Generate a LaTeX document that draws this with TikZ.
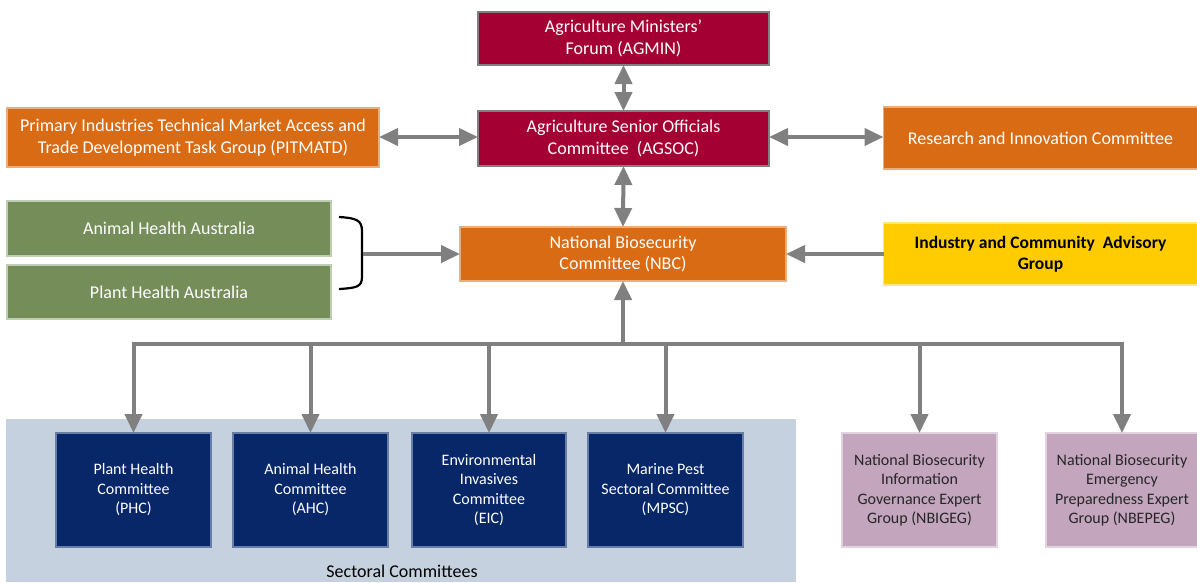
\documentclass[tikz,border=0pt]{standalone}
\usepackage{fontspec}
\setmainfont{Carlito}
\usetikzlibrary{arrows.meta}
\definecolor{crimson}{HTML}{A50034}
\definecolor{orng}{HTML}{D86B13}
\definecolor{grn}{HTML}{748D59}
\definecolor{navy}{HTML}{072769}
\definecolor{mauve}{HTML}{C3A5BE}
\definecolor{panelc}{HTML}{C6D1DF}
\definecolor{yell}{HTML}{FECC00}
\definecolor{arrg}{HTML}{808080}
\definecolor{dtext}{HTML}{262626}
\tikzset{
  box/.style={rectangle, inner sep=0pt, outer sep=0pt, align=center, line width=1.2pt},
  bigtxt/.style={font=\fontsize{18}{21.5}\selectfont},
  smalltxt/.style={font=\fontsize{16}{19.5}\selectfont},
  redbox/.style={box, bigtxt, fill=crimson, draw=arrg, text=white},
  orbox/.style={box, bigtxt, fill=orng, draw=orng!55!white, text=white},
  grbox/.style={box, bigtxt, fill=grn, draw=grn!45!white, text=white},
  nvbox/.style={box, smalltxt, fill=navy, draw=navy!60!white, text=white, minimum height=114},
  mvbox/.style={box, smalltxt, fill=mauve, draw=mauve!50!white, text=dtext, minimum height=114},
  ylbox/.style={box, bigtxt, fill=yell, draw=yell!50!white, text=black, font=\fontsize{17.5}{21.5}\selectfont\bfseries},
  conn/.style={draw=arrg, line width=4pt},
  arr/.style={conn, -{Triangle[length=19pt,width=17pt]}},
  darr/.style={conn, {Triangle[length=19pt,width=17pt]}-{Triangle[length=19pt,width=17pt]}},
}
\begin{document}
\begin{tikzpicture}[x=1pt,y=-1pt]
\useasboundingbox (0,0) rectangle (1197,582);
\fill[white] (0,0) rectangle (1197,582);

% sectoral panel
\node[box, fill=panelc, minimum width=790, minimum height=163] (panel) at (401,500.5) {};
\node[font=\fontsize{18}{20}\selectfont, text=black] (seclab) at (402,571) {Sectoral Committees};

% top boxes
\node[redbox, minimum width=291, minimum height=53] (agmin) at (623.5,38.5) {Agriculture Ministers'\\Forum (AGMIN)};
\node[redbox, minimum width=291, minimum height=55] (agsoc) at (623.5,138.5) {Agriculture Senior Officials\\Committee\ \ (AGSOC)};
\node[orbox, minimum width=372, minimum height=59] (pit) at (193,137.5) {Primary Industries Technical Market Access and\\Trade Development Task Group (PITMATD)};
\node[orbox, minimum width=314, minimum height=62] (ric) at (1040.5,138) {Research and Innovation Committee};

% middle
\node[grbox, minimum width=324, minimum height=55] (aha) at (169,228.5) {Animal Health Australia};
\node[grbox, minimum width=324, minimum height=54] (pha) at (169,292) {Plant Health Australia};
\node[orbox, minimum width=326, minimum height=54] (nbc) at (623,254) {National Biosecurity\\Committee (NBC)};
\node[ylbox, minimum width=314, minimum height=62] (icag) at (1040.5,254) {Industry and Community\ \ Advisory\\Group};

% bottom boxes
\node[nvbox, minimum width=155] (phc) at (133.5,490) {Plant Health\\Committee\\(PHC)};
\node[nvbox, minimum width=155] (ahc) at (310.5,490) {Animal Health\\Committee\\(AHC)};
\node[nvbox, minimum width=154] (eic) at (489,490) {Environmental\\Invasives\\Committee\\(EIC)};
\node[nvbox, minimum width=155] (mpsc) at (665.5,490) {Marine Pest\\Sectoral Committee\\(MPSC)};
\node[mvbox, minimum width=155] (nbigeg) at (919.5,490) {National Biosecurity\\Information\\Governance Expert\\Group (NBIGEG)};
\node[mvbox, minimum width=152] (nbepeg) at (1122,490) {National Biosecurity\\Emergency\\Preparedness Expert\\Group (NBEPEG)};

% top connectors
\draw[darr] (agmin.south) -- (agsoc.north);
\draw[darr] (agsoc.south) -- (nbc.north);
\draw[darr] (pit.east |- 0,137) -- (agsoc.west |- 0,137);
\draw[darr] (agsoc.east |- 0,137) -- (ric.west |- 0,137);
\draw[arr] (icag.west) -- (nbc.east);

% brace
\coordinate (brace) at (363,254);
\draw[black, line width=2.2pt] (339,217) .. controls (356,218) and (362,220) .. (362,231) -- (362,277) .. controls (362,287) and (356,288) .. (339,289);
\draw[arr] (brace) -- (nbc.west);

% bus
\coordinate (bus) at (623,344);
\draw[arr] (bus) -- (nbc.south);
\foreach \n in {phc,ahc,eic,mpsc,nbigeg,nbepeg}{
  \draw[arr] (bus) -| (\n.north);
}
\end{tikzpicture}
\end{document}
